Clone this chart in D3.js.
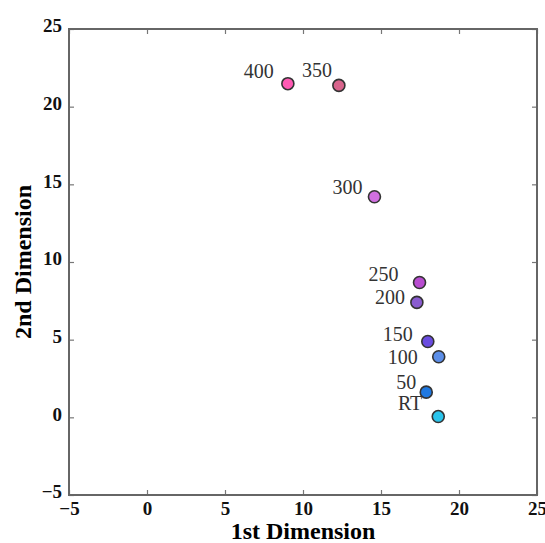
<!DOCTYPE html>
<html>
<head>
<meta charset="utf-8">
<script src="https://cdn.jsdelivr.net/npm/d3@7"></script>
<style>
  body { margin: 0; background: #fff; }
</style>
</head>
<body>
<svg id="chart" width="545" height="543"></svg>
<script>
// data
const labels = ['RT', '50', '100', '150', '200', '250', '300', '350', '400']
const dim1 = [18.67, 17.9, 18.7, 18.0, 17.3, 17.47, 14.58, 12.3, 9.03]
const dim2 = [0.05, 1.62, 3.9, 4.88, 7.4, 8.68, 14.2, 21.37, 21.48]
const pointColors = ['#2ac4ec', '#1f78e0', '#5b8ee8', '#6a4ce0', '#8a5cd0', '#b84cd0', '#d070e0', '#d8648c', '#ff5ab4']
const ticks = [-5, 0, 5, 10, 15, 20, 25]

// label nudges (px from point centre to text end / baseline)
const nudge = {
  'RT': [-16, -7], '50': [-10, -3], '100': [-21, 7], '150': [-15, -1],
  '200': [-12, 2], '250': [-21, -2], '300': [-12, -3], '350': [-7, -8], '400': [-14, -6]
}

const margin = { top: 29, right: 8, bottom: 48, left: 69 }
const svg = d3.select('#chart')
const width = 545 - margin.left - margin.right
const height = 543 - margin.top - margin.bottom

const x = d3.scaleLinear().domain([-5, 25]).range([0, width])
const y = d3.scaleLinear().domain([-5, 25]).range([height, 0])

const g = svg.append('g').attr('transform', 'translate(' + margin.left + ',' + margin.top + ')')

const fmt = d => d < 0 ? '\u2212' + Math.abs(d) : d
const serif = '"Liberation Serif", "Times New Roman", serif'

function styleAxis (sel, showText) {
  sel.select('.domain').remove()
  sel.selectAll('.tick line').attr('stroke', '#777').attr('stroke-width', 1.2)
  sel.selectAll('.tick text')
    .style('font-family', serif)
    .style('font-weight', 'bold')
    .style('font-size', '19px')
    .attr('fill', '#111')
  if (!showText) sel.selectAll('.tick text').remove()
}

g.append('g').attr('transform', 'translate(0,' + height + ')')
  .call(d3.axisBottom(x).tickValues(ticks).tickSize(-5).tickPadding(7).tickFormat(fmt))
  .call(s => styleAxis(s, true))
g.append('g')
  .call(d3.axisTop(x).tickValues(ticks).tickSize(-5).tickFormat(''))
  .call(s => styleAxis(s, false))
g.append('g')
  .call(d3.axisLeft(y).tickValues(ticks).tickSize(-5).tickPadding(7).tickFormat(fmt))
  .call(s => styleAxis(s, true))
  .call(s => s.selectAll('.tick text').attr('dy', '0.15em'))
g.append('g').attr('transform', 'translate(' + width + ',0)')
  .call(d3.axisRight(y).tickValues(ticks).tickSize(-5).tickFormat(''))
  .call(s => styleAxis(s, false))

g.append('rect')
  .attr('width', width).attr('height', height)
  .attr('fill', 'none').attr('stroke', '#666').attr('stroke-width', 2)

const pts = labels.map((l, i) => ({ label: l, x: dim1[i], y: dim2[i], color: pointColors[i] }))

g.selectAll('circle.pt')
  .data(pts)
  .enter()
  .append('circle')
  .attr('class', 'pt')
  .attr('cx', d => x(d.x))
  .attr('cy', d => y(d.y))
  .attr('r', 6)
  .attr('fill', d => d.color)
  .attr('stroke', '#333')
  .attr('stroke-width', 1.6)

g.selectAll('text.lbl')
  .data(pts)
  .enter()
  .append('text')
  .attr('class', 'lbl')
  .attr('x', d => x(d.x) + nudge[d.label][0])
  .attr('y', d => y(d.y) + nudge[d.label][1])
  .attr('text-anchor', 'end')
  .style('font-family', serif)
  .style('font-size', '20px')
  .attr('fill', '#333')
  .text(d => d.label)

svg.append('text')
  .attr('x', margin.left + width / 2)
  .attr('y', 539)
  .attr('text-anchor', 'middle')
  .style('font-family', serif)
  .style('font-weight', 'bold')
  .style('font-size', '24px')
  .text('1st Dimension')

svg.append('text')
  .attr('transform', 'translate(31,' + (margin.top + height / 2) + ') rotate(-90)')
  .attr('text-anchor', 'middle')
  .style('font-family', serif)
  .style('font-weight', 'bold')
  .style('font-size', '24px')
  .text('2nd Dimension')
</script>
</body>
</html>
